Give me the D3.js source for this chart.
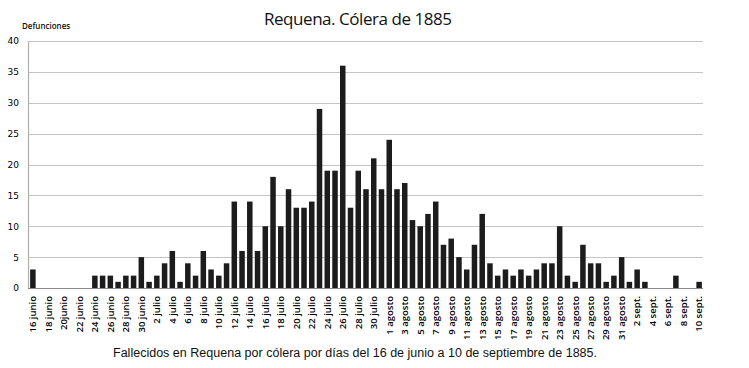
<!DOCTYPE html>
<html lang="es">
<head>
<meta charset="UTF-8">
<title>Requena. Cólera de 1885</title>
<script src="https://d3js.org/d3.v7.min.js"></script>
<style>
  body { margin: 0; background: #fff; }
  svg { display: block; }
  .tick text { fill: #000; }
</style>
</head>
<body>
<div id="chart"></div>
<script>
// días (16 junio - 10 septiembre 1885)
const dias = [
  "16 junio","17 junio","18 junio","19 junio","20junio","21 junio","22 junio","23 junio",
  "24 junio","25 junio","26 junio","27 junio","28 junio","29 junio","30 junio",
  "1 julio","2 julio","3 julio","4 julio","5 julio","6 julio","7 julio","8 julio","9 julio",
  "10 julio","11 julio","12 julio","13 julio","14 julio","15 julio","16 julio","17 julio",
  "18 julio","19 julio","20 julio","21 julio","22 julio","23 julio","24 julio","25 julio",
  "26 julio","27 julio","28 julio","29 julio","30 julio","31 julio",
  "1 agosto","2 agosto","3 agosto","4 agosto","5 agosto","6 agosto","7 agosto","8 agosto",
  "9 agosto","10 agosto","11 agosto","12 agosto","13 agosto","14 agosto","15 agosto",
  "16 agosto","17 agosto","18 agosto","19 agosto","20 agosto","21 agosto","22 agosto",
  "23 agosto","24 agosto","25 agosto","26 agosto","27 agosto","28 agosto","29 agosto",
  "30 agosto","31 agosto",
  "1 sept.","2 sept.","3 sept.","4 sept.","5 sept.","6 sept.","7 sept.","8 sept.","9 sept.","10 sept."
];

// defunciones por día
const defunciones = [
  3,0,0,0,0,0,0,0, 2,2,2,1,2,2,5,
  1,2,4,6,1,4,2,6,3, 2,4,14,6,14,6,10,18, 10,16,13,13,14,29,19,19, 36,13,19,16,21,16,
  24,16,17,11,10,12,14,7, 8,5,3,7,12,4,2, 3,2,3,2,3,4,4, 10,2,1,7,4,4,1, 2,5,
  1,3,1,0,0,0,2,0,0,1
];

const yTicks = [0, 5, 10, 15, 20, 25, 30, 35, 40];

const W = 749, H = 368;
const m = { top: 41, right: 46, bottom: 80, left: 29 };

const svg = d3.select("#chart").append("svg")
  .attr("width", W).attr("height", H);

const x = d3.scaleBand()
  .domain(dias)
  .range([m.left, W - m.right])
  .paddingInner(0.29)
  .paddingOuter(0.145);

const y = d3.scaleLinear()
  .domain([0, 40])
  .range([H - m.bottom, m.top]);

// rejilla
svg.append("g")
  .selectAll("line")
  .data(yTicks.filter(d => d > 0))
  .join("line")
  .attr("x1", m.left - 1).attr("x2", W - m.right)
  .attr("y1", d => Math.round(y(d)) + 0.5).attr("y2", d => Math.round(y(d)) + 0.5)
  .attr("stroke", "#c4c4c4").attr("stroke-width", 1.2);

// barras
svg.append("g")
  .selectAll("rect")
  .data(dias.map((d, i) => ({ dia: d, v: defunciones[i] })))
  .join("rect")
  .attr("x", d => x(d.dia))
  .attr("width", x.bandwidth())
  .attr("y", d => y(d.v))
  .attr("height", d => y(0) - y(d.v))
  .attr("fill", "#1c1c1c");

// eje y
const yAxis = svg.append("g")
  .attr("transform", `translate(${m.left - 1},0)`)
  .call(d3.axisLeft(y).tickValues(yTicks).tickSize(0).tickPadding(9));
yAxis.select(".domain").attr("stroke", "#b0b0b0").attr("stroke-width", 1.2);
yAxis.selectAll("text")
  .attr("font-family", "DejaVu Sans, sans-serif")
  .attr("font-size", 9);

// eje x
const xAxis = svg.append("g")
  .attr("transform", `translate(0,${y(0)})`)
  .call(d3.axisBottom(x)
    .tickValues(dias.filter((d, i) => i % 2 === 0))
    .tickSize(0));
xAxis.select(".domain")
  .attr("stroke", "#888").attr("stroke-width", 1)
  .attr("d", `M${m.left - 1},0.5H${W - m.right}`);
xAxis.selectAll("text")
  .attr("font-family", "Open Sans, sans-serif")
  .attr("font-weight", 600)
  .attr("font-size", 9.5)
  .attr("text-anchor", "end")
  .attr("transform", "rotate(-90)")
  .attr("x", -8)
  .attr("y", 0)
  .attr("dy", "0.35em");

// título
svg.append("text")
  .attr("x", 358).attr("y", 25)
  .attr("text-anchor", "middle")
  .attr("font-family", "Open Sans, sans-serif")
  .attr("font-size", 17)
  .attr("fill", "#111")
  .attr("textLength", 188)
  .text("Requena. Cólera de 1885");

svg.append("text")
  .attr("x", 22).attr("y", 29)
  .attr("font-family", "Open Sans, sans-serif")
  .attr("font-weight", 600)
  .attr("font-size", 8)
  .attr("fill", "#111")
  .text("Defunciones");

// pie
svg.append("text")
  .attr("x", 355).attr("y", 357)
  .attr("text-anchor", "middle")
  .attr("font-family", "Liberation Sans, Arial, sans-serif")
  .attr("font-size", 12.5)
  .attr("fill", "#111")
  .attr("textLength", 484)
  .text("Fallecidos en Requena por cólera por días del 16 de junio a 10 de septiembre de 1885.");
</script>
</body>
</html>
